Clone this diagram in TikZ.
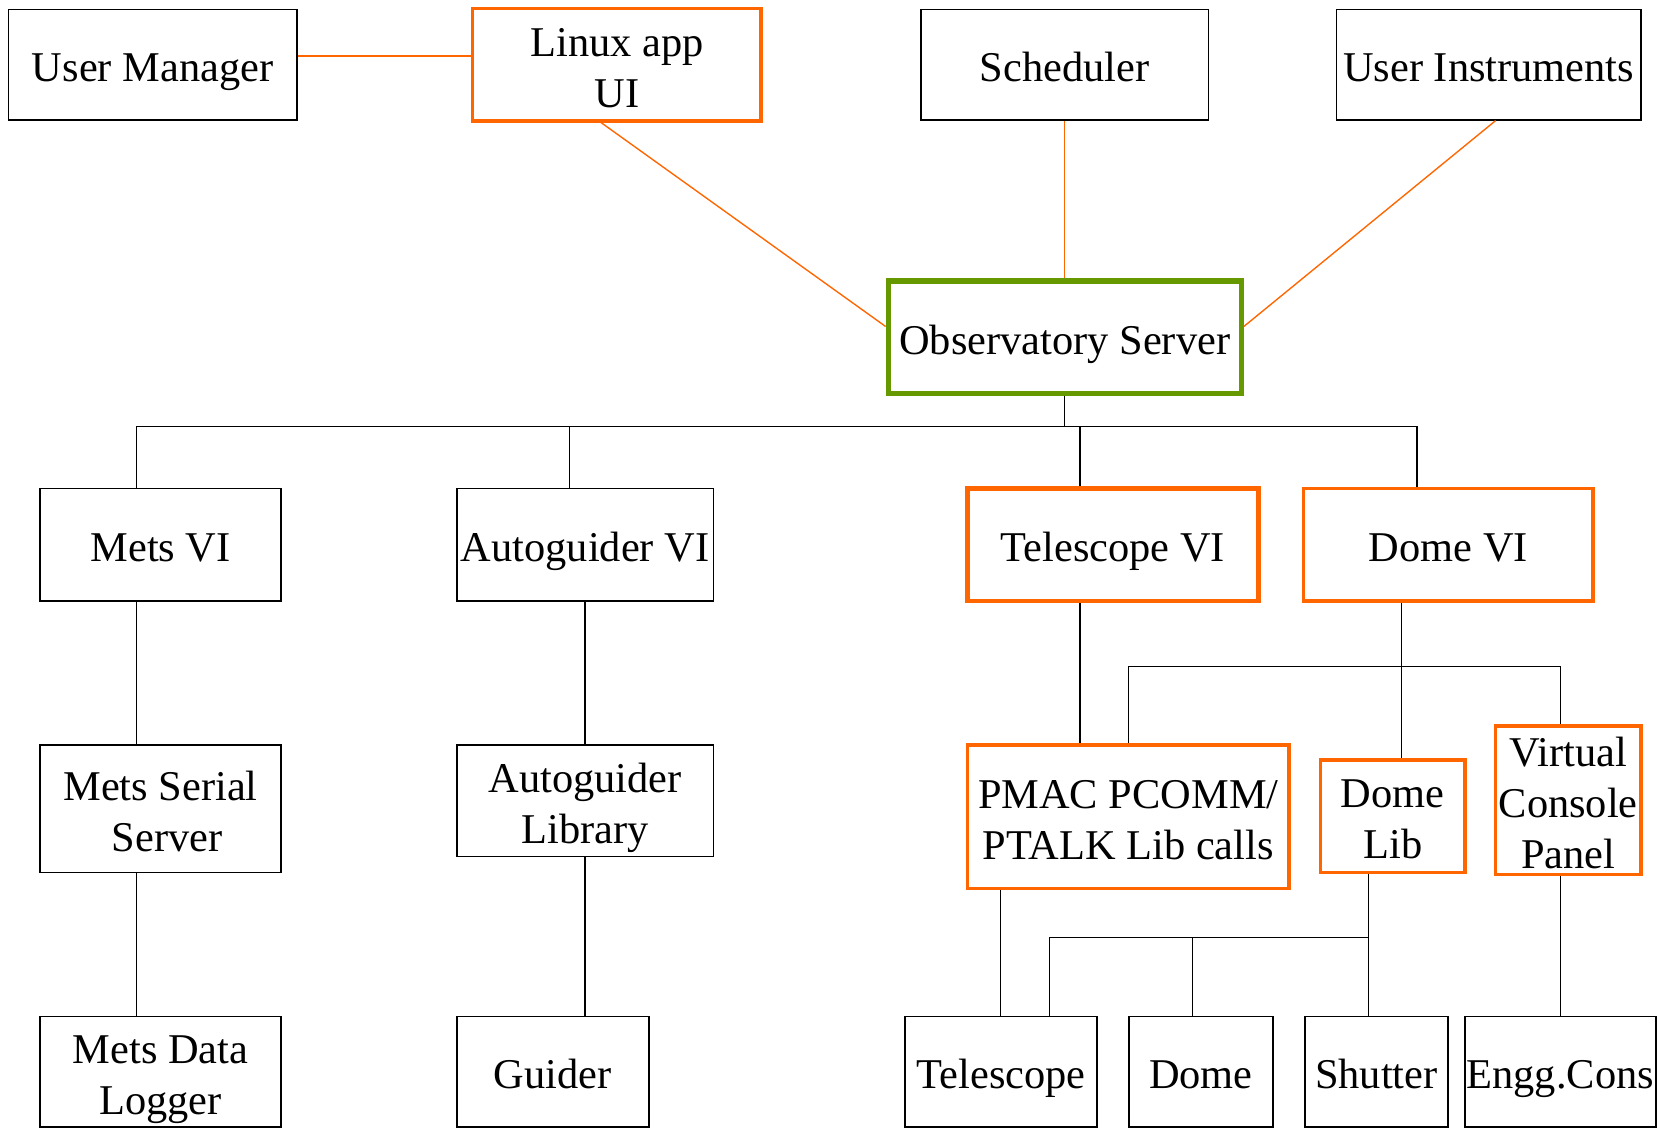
\documentclass[tikz,border=0pt]{standalone}
\usepackage{fontspec}
\setmainfont{Liberation Serif}
\definecolor{sysorange}{RGB}{255,102,0}
\definecolor{sysgreen}{RGB}{102,153,0}
% every text line gets the same height and depth, so lines sit alike in their boxes
\newcommand\fixln[1]{\raisebox{0pt}[0.95em][0.15em]{#1}}
\tikzset{
  box/.style={draw=black, line width=0.8pt, inner sep=0pt, align=center,
    font=\fontsize{20}{24}\selectfont},
  hot/.style={box, draw=sysorange, line width=1.6pt},
  hotter/.style={box, draw=sysorange, line width=2.2pt},
  core/.style={box, draw=sysgreen, line width=2.5pt},
  link/.style={draw=black, line width=0.65pt},
  olink/.style={draw=sysorange, line width=0.65pt},
}
\begin{document}
\begin{tikzpicture}[x=0.5pt, y=-0.5pt]
\useasboundingbox (0,0) rectangle (1568,1065);

% top row
\node[box, minimum width=136pt, minimum height=52pt] (um) at (144,61) {\fixln{User Manager}};
\node[hot, minimum width=136pt, minimum height=53pt] (linux) at (582,61) {\fixln{Linux app}\\\fixln{UI}};
\node[box, minimum width=135.5pt, minimum height=52pt] (sched) at (1004.5,61) {\fixln{Scheduler}};
\node[box, minimum width=143.5pt, minimum height=52pt] (uinst) at (1404.5,61) {\fixln{User Instruments}};

% server
\node[core, minimum width=166.5pt, minimum height=53pt] (obs) at (1004.5,318) {\fixln{Observatory Server}};

% virtual instruments
\node[box, minimum width=113.5pt, minimum height=53pt] (metsvi) at (151.5,514) {\fixln{Mets VI}};
\node[box, minimum width=121pt, minimum height=53pt] (agvi) at (552,514) {\fixln{Autoguider VI}};
\node[hotter, minimum width=137pt, minimum height=53pt] (telvi) at (1050,514) {\fixln{Telescope VI}};
\node[hot, minimum width=136.5pt, minimum height=53pt] (domevi) at (1366.5,514) {\fixln{Dome VI}};

% libraries and servers
\node[box, minimum width=113.5pt, minimum height=60pt] (metsser) at (151.5,763) {\fixln{Mets Serial}\\\fixln{\hspace*{0.3em}Server}};
\node[box, minimum width=121pt, minimum height=52.5pt] (aglib) at (552,755.5) {\fixln{Autoguider}\\\fixln{Library}};
\node[hot, minimum width=151.5pt, minimum height=67.5pt] (pmac) at (1064.5,770.5) {\fixln{PMAC PCOMM/}\\\fixln{PTALK Lib calls}};
\node[hot, minimum width=68pt, minimum height=53pt] (domelib) at (1314,770) {\fixln{Dome}\\\fixln{Lib}};
\node[hot, minimum width=68.5pt, minimum height=68pt] (vcp) at (1479.5,755) {\fixln{Virtual}\\\fixln{Console}\\\fixln{Panel}};

% hardware
\node[box, minimum width=113.5pt, minimum height=52pt] (metsdl) at (151.5,1011) {\fixln{Mets Data}\\\fixln{Logger}};
\node[box, minimum width=90.5pt, minimum height=52pt] (guider) at (521.5,1011) {\fixln{Guider}};
\node[box, minimum width=90.5pt, minimum height=52pt] (tel) at (944.5,1011) {\fixln{Telescope}};
\node[box, minimum width=68pt, minimum height=52pt] (dome) at (1133,1011) {\fixln{Dome}};
\node[box, minimum width=67.5pt, minimum height=52pt] (shutter) at (1298.5,1011) {\fixln{Shutter}};
\node[box, minimum width=90pt, minimum height=52pt] (engg) at (1472,1011) {\fixln{Engg.Cons}};

% user-side links
\draw[olink] ([yshift=4pt]um.east) -- ([yshift=4pt]linux.west);
\draw[olink] ([xshift=-7.5pt]linux.south) -- ([yshift=5pt]obs.west);
\draw[olink] (sched.south) -- (obs.north);
\draw[olink] ([xshift=3.25pt]uinst.south) -- ([yshift=5pt]obs.east);

% server to virtual instruments
\draw[link] (obs.south) -- ++(0,29) -| ([xshift=-11.25pt]metsvi.north);
\draw[link] (obs.south) -- ++(0,29) -| ([xshift=-7.5pt]agvi.north);
\draw[link] (obs.south) -- ++(0,29) -| ([xshift=-15.5pt]telvi.north);
\draw[link] (obs.south) -- ++(0,29) -| ([xshift=-14.75pt]domevi.north);

% Mets chain
\draw[link] ([xshift=-11.25pt]metsvi.south) -- ([xshift=-11.25pt]metsser.north);
\draw[link] ([xshift=-11.25pt]metsser.south) -- ([xshift=-11.25pt]metsdl.north);

% Autoguider chain
\draw[link] (agvi.south) -- (aglib.north);
\draw[link] (aglib.south) -- (aglib.south |- guider.north);

% Telescope chain
\draw[link] ([xshift=-15.5pt]telvi.south) coordinate (tv) -- (tv |- pmac.north);
\draw[link] ([xshift=-60.25pt]pmac.south) coordinate (pm) -- (pm |- tel.north);

% Dome chain
\draw[link] ([xshift=-22.25pt]domevi.south) coordinate (dv) -- (dv |- domelib.north);
\path (dv) ++(0,60) coordinate (dbus);
\draw[link] (pmac.north) |- (dbus) -| ([xshift=-3.75pt]vcp.north);

\draw[link] ([xshift=-11.5pt]domelib.south) coordinate (dl) -- (dl |- shutter.north);
\path (dl) ++(0,60) coordinate (lbus);
\draw[link] ([xshift=22.75pt]tel.north) |- (lbus);
\draw[link] ([xshift=-4pt]dome.north) -- ([xshift=-4pt]dome.north |- lbus);

\draw[link] ([xshift=-3.75pt]vcp.south) coordinate (vc) -- (vc |- engg.north);
\end{tikzpicture}
\end{document}
